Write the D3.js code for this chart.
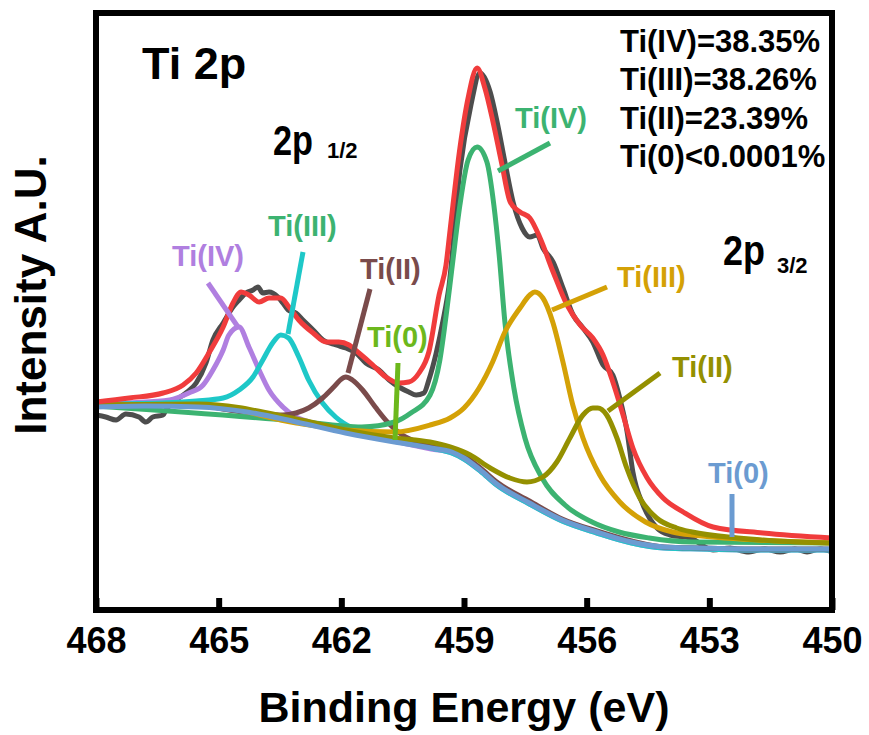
<!DOCTYPE html>
<html>
<head>
<meta charset="utf-8">
<script src="https://cdn.jsdelivr.net/npm/d3@7"></script>
<style>
  html, body { margin: 0; padding: 0; background: #fff; }
  svg { display: block; }
  text { font-family: "Liberation Sans", Arial, sans-serif; font-weight: bold; }
</style>
</head>
<body>
<svg id="chart" width="869" height="735"></svg>
<script>
// ---------- DATA (binding energy eV, intensity a.u.) ----------
const xTicks = [468, 465, 462, 459, 456, 453, 450];

const rawData = [[468.00,195],[467.76,193],[467.51,190],[467.27,196],[466.95,193],[466.78,188],[466.61,193],[466.36,195],[466.29,200],[466.04,210],[465.80,217],[465.55,227],[465.31,247],[465.14,270],[464.89,287],[464.65,303],[464.50,310],[464.33,317],[464.16,320],[464.04,323],[463.92,317],[463.77,318],[463.55,313],[463.43,307],[463.30,300],[463.11,297],[462.94,290],[462.69,280],[462.45,270],[462.13,265],[461.89,262],[461.64,257],[461.40,247],[461.08,240],[460.83,230],[460.59,223],[460.35,218],[460.17,215],[459.98,217],[459.86,230],[459.68,257],[459.51,290],[459.37,323],[459.10,440],[458.83,505],[458.61,537],[458.36,518],[458.19,488],[458.00,448],[457.80,408],[457.58,382],[457.39,373],[457.21,375],[457.07,362],[456.82,348],[456.58,322],[456.33,295],[456.09,282],[455.85,268],[455.60,245],[455.36,235],[455.19,212],[455.01,178],[454.87,138],[454.62,105],[454.28,82],[453.96,75],[453.47,72],[452.91,60],[452.49,62],[452.08,58],[451.64,61],[451.27,58],[450.91,61],[450.61,58],[450.29,61],[450.00,58]];

const envelopeData = [[468.0,208],[467.19,212],[466.36,217],[465.87,225],[465.55,237],[465.24,257],[464.89,283],[464.65,307],[464.45,318],[464.26,315],[464.01,308],[463.77,312],[463.48,312],[463.28,303],[463.04,290],[462.69,277],[462.37,268],[462.06,268],[461.81,265],[461.57,257],[461.23,245],[460.91,233],[460.59,227],[460.35,228],[460.10,237],[459.86,258],[459.61,315],[459.44,345],[459.34,380],[459.10,462],[458.90,512],[458.68,542],[458.49,522],[458.29,488],[458.07,445],[457.87,408],[457.63,398],[457.39,392],[457.14,372],[456.82,338],[456.48,305],[456.16,285],[455.85,272],[455.60,255],[455.36,228],[455.11,195],[454.87,162],[454.52,132],[454.13,112],[453.64,98],[452.91,83],[451.69,77],[450.0,72]];

const backgroundData = [[468.0,203],[466.8,204],[465.5,203],[464.3,198],[463.1,188],[461.9,177],[460.7,168],[459.8,162],[459.3,158],[459.0,152],[458.6,140],[458.2,126],[457.4,107],[456.6,90],[455.75,78],[454.9,68],[454.1,63],[453.2,62],[451.8,61],[450.0,61]];

const ti4Half = [[468.0,205],[467.2,207],[466.2,210],[465.73,217],[465.38,225],[465.14,240],[464.89,260],[464.75,275],[464.5,283],[464.26,263],[464.01,240],[463.77,220],[463.43,203],[463.11,193],[462.69,187],[462.3,184],[461.05,172],[459.8,161],[459.3,157],[459.0,151],[458.6,139],[458.2,125],[457.4,106],[456.6,89],[455.75,77],[454.9,67],[454.1,62],[453.2,61],[451.8,60],[450.0,60]];

const ti3Half = [[468.0,206],[466.4,207],[465.55,209],[464.89,212],[464.5,220],[464.16,233],[463.92,250],[463.68,267],[463.48,275],[463.29,272],[463.04,253],[462.8,230],[462.46,207],[462.14,193],[461.73,182],[461.24,175],[460.7,171],[459.8,162],[459.3,157],[459.0,151],[458.6,139],[458.2,125],[457.4,106],[456.6,89],[455.75,77],[454.9,67],[454.1,62],[453.2,61],[451.8,60],[450.0,60]];

const ti2Half = [[468.0,205],[465.55,205],[464.75,200],[463.92,196],[463.43,195],[463.11,197],[462.8,202],[462.46,212],[462.21,222],[461.96,232],[461.89,233],[461.73,230],[461.48,220],[461.17,203],[460.85,187],[460.51,175],[460.12,168],[459.63,165],[459.3,160],[459.0,154],[458.6,142],[458.2,128],[457.4,109],[456.6,91],[455.75,79],[454.9,69],[454.1,63],[453.2,62],[451.8,61],[450.0,61]];

const ti4ThreeHalf = [[468.0,204],[463.1,189],[461.5,183],[460.7,188],[460.3,197],[459.83,215],[459.59,250],[459.42,300],[459.3,340],[459.1,405],[458.9,450],[458.68,463],[458.44,448],[458.27,405],[458.14,355],[458.0,288],[457.78,222],[457.51,172],[457.09,132],[456.53,105],[455.87,88],[455.21,78],[454.47,72],[453.42,68],[450.0,67]];

const ti3ThreeHalf = [[468.0,205],[465.5,205],[463.1,187],[461.9,180],[460.7,178],[459.83,185],[459.34,192],[459.0,202],[458.63,222],[458.3,248],[458.0,278],[457.63,302],[457.39,315],[457.27,318],[457.07,312],[456.83,288],[456.58,248],[456.34,205],[456.09,172],[455.68,135],[455.19,108],[454.56,88],[453.9,78],[453.42,75],[450.0,67]];

const ti2ThreeHalf = [[468.0,205],[465.5,206],[463.1,191],[461.9,180],[460.7,172],[459.83,168],[459.34,163],[458.85,155],[458.36,142],[457.88,132],[457.46,128],[457.07,133],[456.73,148],[456.41,172],[456.09,195],[455.85,202],[455.73,202],[455.51,195],[455.26,172],[455.02,142],[454.7,112],[454.29,92],[453.8,82],[453.42,78],[452.3,72],[450.0,67]];

const percentLines = ["Ti(IV)=38.35%", "Ti(III)=38.26%", "Ti(II)=23.39%", "Ti(0)<0.0001%"];

// ---------- LAYOUT ----------
const svg = d3.select("#chart");
const L = 96, R = 832, T = 13, B = 610;
const x = d3.scaleLinear().domain([468, 450]).range([L, R]);
const y = d3.scaleLinear().domain([0, 600]).range([B, 10]);

const C = {
  gray: "#4d4d4d", red: "#f03c3c", purple: "#b07fe0", cyan: "#1ec8c8",
  brown: "#7a4b4b", ltgreen: "#6cb81c", green: "#3cb371", gold: "#d4a106",
  olive: "#949000", blue: "#6b9bd1", tealLabel: "#3cb371"
};

svg.append("defs").append("clipPath").attr("id", "clip")
  .append("rect").attr("x", L).attr("y", T).attr("width", R - L).attr("height", B - T);

const line = d3.line().x(d => x(d[0])).y(d => y(d[1])).curve(d3.curveMonotoneX);
const plot = svg.append("g").attr("clip-path", "url(#clip)");

function drawLine(data, color, w) {
  plot.append("path").datum(data).attr("d", line)
    .attr("fill", "none").attr("stroke", color).attr("stroke-width", w)
    .attr("stroke-linejoin", "round").attr("stroke-linecap", "round");
}

drawLine(rawData, C.gray, 5);
drawLine(ti4Half, C.purple, 5);
drawLine(ti3Half, C.cyan, 5);
drawLine(ti2Half, C.brown, 5);
drawLine(ti4ThreeHalf, C.green, 5);
drawLine(ti3ThreeHalf, C.gold, 5);
drawLine(ti2ThreeHalf, C.olive, 5);
drawLine(backgroundData, C.blue, 5);
drawLine(envelopeData, C.red, 5);

// ---------- AXES / FRAME ----------
const xAxis = d3.axisBottom(x).tickValues(xTicks).tickSizeInner(-12).tickSizeOuter(0).tickPadding(17)
  .tickFormat(d3.format("d"));
const gx = svg.append("g").attr("transform", `translate(0,${B})`).call(xAxis);
gx.select(".domain").remove();
gx.selectAll(".tick line").attr("stroke", "#000").attr("stroke-width", 6);
gx.selectAll(".tick text").attr("fill", "#000").style("font-size", "36px")
  .style("font-family", "'Liberation Sans', Arial, sans-serif").style("font-weight", "bold");

svg.append("rect").attr("x", L).attr("y", T).attr("width", R - L).attr("height", B - T)
  .attr("fill", "none").attr("stroke", "#000").attr("stroke-width", 6);

svg.append("text").attr("x", (L + R) / 2).attr("y", 722).attr("text-anchor", "middle")
  .style("font-size", "43px").text("Binding Energy (eV)");
svg.append("text").attr("transform", "translate(46,295) rotate(-90)").attr("text-anchor", "middle")
  .style("font-size", "44px").text("Intensity A.U.");

// ---------- ANNOTATIONS ----------
svg.append("text").attr("x", 142).attr("y", 79).style("font-size", "45px").text("Ti 2p");
svg.append("text").attr("x", 273).attr("y", 155).style("font-size", "42px")
  .attr("textLength", 40).attr("lengthAdjust", "spacingAndGlyphs").text("2p");
svg.append("text").attr("x", 327).attr("y", 158).style("font-size", "22px").text("1/2");
svg.append("text").attr("x", 723).attr("y", 265).style("font-size", "42px")
  .attr("textLength", 42).attr("lengthAdjust", "spacingAndGlyphs").text("2p");
svg.append("text").attr("x", 777).attr("y", 273).style("font-size", "22px").text("3/2");

svg.selectAll("text.pct").data(percentLines).enter().append("text").attr("class", "pct")
  .attr("x", 620).attr("y", (d, i) => 52 + i * 38.3).style("font-size", "31px").text(d => d);

const labels = [
  { t: "Ti(IV)", c: C.green, x: 515, y: 128, l: [550, 143, 498, 171] },
  { t: "Ti(IV)", c: C.purple, x: 172, y: 266, l: [208, 283, 238, 327] },
  { t: "Ti(III)", c: C.tealLabel, lc: C.cyan, x: 268, y: 236, l: [303, 252, 288, 334] },
  { t: "Ti(II)", c: C.brown, x: 360, y: 279, l: [370, 289, 348, 373] },
  { t: "Ti(0)", c: C.ltgreen, x: 367, y: 347, l: [398, 363, 395, 440] },
  { t: "Ti(III)", c: C.gold, x: 617, y: 287, l: [607, 287, 552, 310] },
  { t: "Ti(II)", c: C.olive, x: 672, y: 377, l: [660, 373, 608, 411] },
  { t: "Ti(0)", c: C.blue, x: 708, y: 483, l: [732, 494, 732, 537] }
];
labels.forEach(d => {
  svg.append("line").attr("x1", d.l[0]).attr("y1", d.l[1]).attr("x2", d.l[2]).attr("y2", d.l[3])
    .attr("stroke", d.lc || d.c).attr("stroke-width", 5);
  svg.append("text").attr("x", d.x).attr("y", d.y).attr("fill", d.c).style("font-size", "29px").text(d.t);
});
</script>
</body>
</html>
